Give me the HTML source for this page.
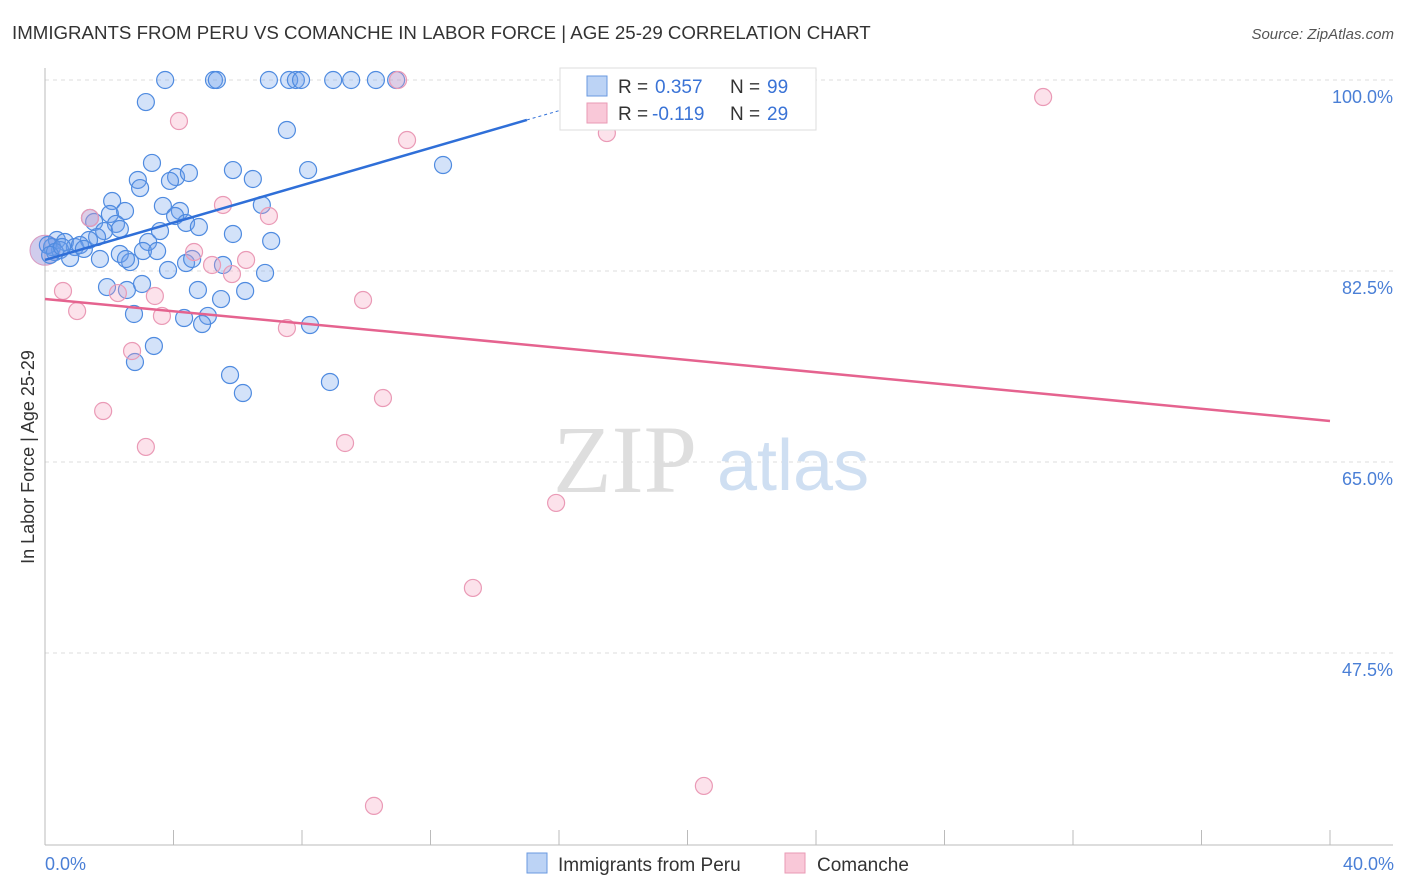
<!DOCTYPE html>
<html><head><meta charset="utf-8"><style>
body{margin:0;background:#fff;font-family:"Liberation Sans",sans-serif;}
svg{display:block}
</style></head><body>
<svg width="1406" height="892">
<text x="12" y="39" font-size="18.7" fill="#333">IMMIGRANTS FROM PERU VS COMANCHE IN LABOR FORCE | AGE 25-29 CORRELATION CHART</text>
<text x="1394" y="39" font-size="15" fill="#555" text-anchor="end" font-style="italic">Source: ZipAtlas.com</text>
<g id="grid"></g>
<g>
<text x="553" y="492" font-size="96" font-family="Liberation Serif" fill="#dedede">ZIP</text>
<text x="717" y="490" font-size="72" fill="#cfdff2">atlas</text>
</g>
<g id="pts"></g>
<g id="lines"></g>
<text transform="translate(34,457) rotate(-90)" font-size="18" fill="#333" text-anchor="middle">In Labor Force | Age 25-29</text>
<text x="45" y="870" font-size="18" fill="#4a7fd6">0.0%</text>
<text x="1394" y="870" font-size="18" fill="#4a7fd6" text-anchor="end">40.0%</text>
<g>
<rect x="560" y="68" width="256" height="62" fill="#fff" stroke="#ddd"/>
<rect x="587" y="76" width="20" height="20" fill="#bcd3f5" stroke="#6a9ae0"/>
<rect x="587" y="103" width="20" height="20" fill="#f9c8d8" stroke="#e99ab5"/>
<text x="618" y="93" font-size="19" fill="#333">R =</text>
<text x="655" y="93" font-size="19" fill="#3a73d6">0.357</text>
<text x="730" y="93" font-size="19" fill="#333">N =</text>
<text x="767" y="93" font-size="19" fill="#3a73d6">99</text>
<text x="618" y="120" font-size="19" fill="#333">R =</text>
<text x="652" y="120" font-size="19" fill="#3a73d6">-0.119</text>
<text x="730" y="120" font-size="19" fill="#333">N =</text>
<text x="767" y="120" font-size="19" fill="#3a73d6">29</text>
</g>
<g>
<rect x="527" y="853" width="20" height="20" fill="#bcd3f5" stroke="#6a9ae0"/>
<text x="558" y="871" font-size="19" fill="#333">Immigrants from Peru</text>
<rect x="785" y="853" width="20" height="20" fill="#f9c8d8" stroke="#e99ab5"/>
<text x="817" y="871" font-size="19" fill="#333">Comanche</text>
</g>
</svg>
<script>
const yTicks=[100,82.5,65,47.5];
const yTickLabels=["100.0%","82.5%","65.0%","47.5%"];
const xTicks=[0,4,8,12,16,20,24,28,32,36,40];
const blueX=[3.74,5.26,5.35,6.97,7.60,7.81,7.97,8.97,9.53,10.30,10.93,3.14,7.53,12.39,3.33,5.85,8.19,4.08,4.48,2.89,3.89,2.96,6.47,2.09,3.67,4.20,2.49,2.02,4.05,6.75,1.40,1.53,2.21,4.39,4.79,1.84,2.33,5.85,7.04,3.21,3.58,1.62,1.37,0.37,0.62,0.93,1.09,1.21,0.22,0.47,0.78,1.71,2.33,2.65,3.05,3.49,2.52,4.39,4.58,5.54,3.83,6.85,1.93,2.55,3.02,4.76,6.23,5.48,2.77,4.33,5.07,4.89,8.25,3.39,2.80,5.76,8.87,6.16,0.09,0.31,0.16,0.53];
const blueY=[100,100,100,100,100,100,100,100,100,100,100,97.98,95.42,92.21,92.40,91.75,91.75,91.11,91.48,90.84,90.75,90.10,90.93,88.91,88.46,88.00,88.00,87.72,87.54,88.55,87.36,86.99,86.81,86.90,86.53,86.16,86.35,85.89,85.25,85.16,86.16,85.61,85.34,85.34,85.16,84.70,84.88,84.52,84.70,84.42,83.69,83.60,84.06,83.32,84.33,84.33,83.60,83.23,83.60,83.05,82.59,82.32,81.03,80.76,81.31,80.76,80.67,79.93,78.56,78.19,78.38,77.64,77.55,75.63,74.16,72.97,72.33,71.32,84.88,84.24,83.97,84.70];
const pinkX=[10.99,31.07,4.17,11.27,17.49,5.54,6.97,1.40,4.64,6.26,5.20,5.82,0.56,2.27,3.42,9.90,1.00,3.64,7.53,2.71,10.52,1.81,9.34,3.14,15.91,13.32,20.51,10.24];
const pinkY=[100,98.44,96.24,94.50,95.14,88.55,87.54,87.36,84.24,83.51,83.05,82.22,80.67,80.48,80.21,79.84,78.83,78.38,77.27,75.17,70.86,69.67,66.74,66.38,61.25,53.46,35.32,33.49];
const blueLine=[[0,83.51],[15.0,96.34]];
const blueDash=[[15.0,96.34],[16.96,98.0]];
const pinkLine=[[0,79.93],[40,68.76]];
const NS="http://www.w3.org/2000/svg";
const X=v=>45+v*32.125, Y=v=>80+(100-v)*10.914;
function mk(t,a,p){const e=document.createElementNS(NS,t);for(const k in a)e.setAttribute(k,a[k]);p.appendChild(e);return e;}
const grid=document.getElementById('grid');
yTicks.forEach((t,i)=>{
 const l=mk('line',{x1:45,x2:1393,y1:Y(t),y2:Y(t),stroke:'#ddd','stroke-dasharray':'4,4'},grid);
 
 
 const tx=mk('text',{x:1393,y:Y(t)+23,'font-size':18,fill:'#4a7fd6','text-anchor':'end'},grid);
 tx.textContent=yTickLabels[i];
 
 
});
let ax=mk('line',{x1:45,x2:45,y1:68,y2:845,stroke:'#bbb'},grid);


ax=mk('line',{x1:45,x2:1393,y1:845,y2:845,stroke:'#bbb'},grid);


xTicks.forEach(t=>{
 const l=mk('line',{x1:X(t),x2:X(t),y1:830,y2:845,stroke:'#bbb'},grid);
 
 
});
const pts=document.getElementById('pts');
const big=mk('circle',{cx:X(0),cy:Y(84.4),r:15,fill:'rgba(120,110,200,0.35)',stroke:'#d99ac0'},pts);


blueX.forEach((x,i)=>{
 const c=mk('circle',{cx:X(x),cy:Y(blueY[i]),r:8.5,fill:'rgba(110,160,235,0.3)',stroke:'#4f8be0','stroke-width':1.2},pts);
 
 
});
pinkX.forEach((x,i)=>{
 const c=mk('circle',{cx:X(x),cy:Y(pinkY[i]),r:8.5,fill:'rgba(245,160,190,0.3)',stroke:'#ea9ab6','stroke-width':1.2},pts);
 
 
});
const lines=document.getElementById('lines');
let l=mk('line',{x1:X(blueLine[0][0]),y1:Y(blueLine[0][1]),x2:X(blueLine[1][0]),y2:Y(blueLine[1][1]),stroke:'#2f6fd8','stroke-width':2.5},lines);


l=mk('line',{x1:X(blueDash[0][0]),y1:Y(blueDash[0][1]),x2:X(blueDash[1][0]),y2:Y(blueDash[1][1]),stroke:'#2f6fd8','stroke-width':1,'stroke-dasharray':'3,3'},lines);


l=mk('line',{x1:X(pinkLine[0][0]),y1:Y(pinkLine[0][1]),x2:X(pinkLine[1][0]),y2:Y(pinkLine[1][1]),stroke:'#e5638f','stroke-width':2.5},lines);


</script>
</body></html>
